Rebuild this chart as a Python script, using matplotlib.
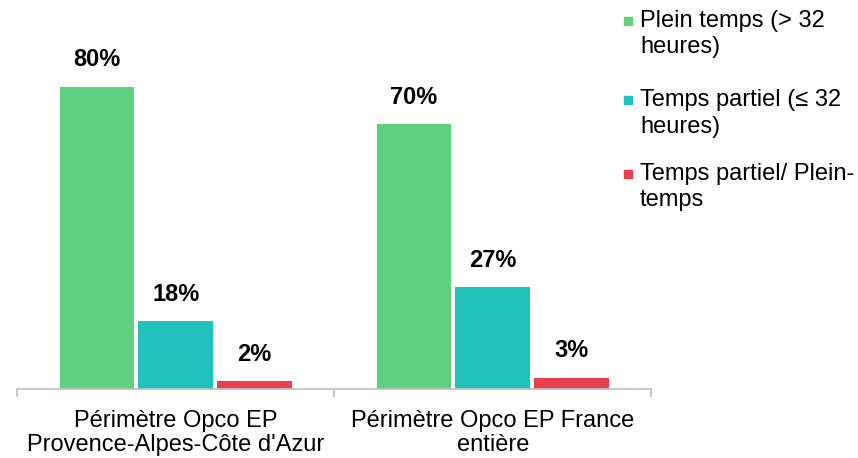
import matplotlib.pyplot as plt
import numpy as np
from matplotlib.lines import Line2D

plt.rcParams["font.family"] = ["Liberation Sans", "DejaVu Sans"]

categories = ["Périmètre Opco EP\nProvence-Alpes-Côte d'Azur",
              "Périmètre Opco EP France\nentière"]
series_names = ["Plein temps (> 32\nheures)",
                "Temps partiel (≤ 32\nheures)",
                "Temps partiel/ Plein-\ntemps"]
plein_temps = [80, 70]
temps_partiel = [18, 27]
partiel_plein = [2, 3]
colors = ["#5fcf80", "#22c2bc", "#e8404f"]

series = [plein_temps, temps_partiel, partiel_plein]

fig = plt.figure(figsize=(8.58, 4.58), dpi=100)
ax = fig.add_axes([0.02, 0.151, 0.739, 0.825])

x = np.arange(len(categories))
width = 0.235
step = 0.248
for i, (vals, col) in enumerate(zip(series, colors)):
    pos = x + (i - 1) * step
    ax.bar(pos, vals, width=width, color=col, zorder=2)
    for p, v in zip(pos, vals):
        ax.annotate(f"{v}%", (p, v), xytext=(0, 11), textcoords="offset points",
                    ha="center", va="bottom", fontsize=17, fontweight="bold")

ax.set_xlim(-0.5, 1.5)
ax.set_ylim(0, 100)
ax.set_yticks([])
for s in ["top", "right", "left"]:
    ax.spines[s].set_visible(False)
ax.spines["bottom"].set_color("#bfbfbf")
ax.spines["bottom"].set_linewidth(1.2)
ax.set_xticks([-0.5, 0.5, 1.5], minor=True)
ax.tick_params(axis="x", which="minor", length=6, color="#bfbfbf", width=1.2)
ax.set_xticks(x, categories)
ax.tick_params(axis="x", which="major", length=0, pad=15, labelsize=17)
for lbl in ax.get_xticklabels():
    lbl.set_linespacing(1.12)

# legend: small squares aligned with the first line of each label
legend_top = [0.978, 0.805, 0.644]
for name, col, yy in zip(series_names, colors, legend_top):
    fig.add_artist(Line2D([0.7315], [yy - 0.024], marker="s", markersize=5.5,
                          color=col, linestyle="none", transform=fig.transFigure))
    fig.text(0.746, yy, name, fontsize=17, ha="left", va="top",
             linespacing=1.25, transform=fig.transFigure)

fig.savefig("out.png", dpi=100)
